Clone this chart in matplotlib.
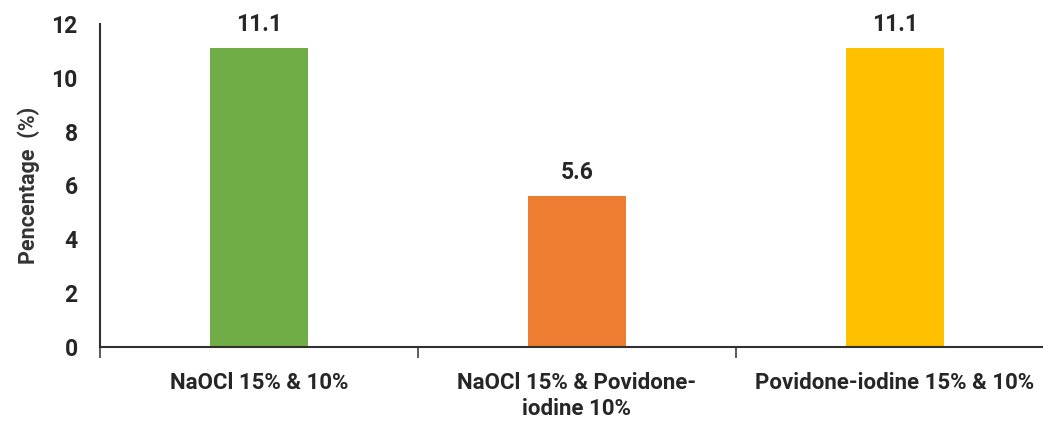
import numpy as np
import matplotlib.pyplot as plt

categories = ['NaOCl 15% & 10%', 'NaOCl 15% & Povidone-\niodine 10%', 'Povidone-iodine 15% & 10%']
values = [11.1, 5.6, 11.1]
value_labels = ['11.1', '5.6', '11.1']
colors = ['#70AD47', '#ED7D31', '#FFC000']

plt.rcParams['font.family'] = ['Roboto', 'DejaVu Sans']

fig = plt.figure(figsize=(10.43, 4.28), dpi=100)
ax = fig.add_axes([100/1043, 81/428, 954/1043, 323/428])

x = np.arange(len(categories))
ax.bar(x, values, width=0.31, color=colors)
for xi, v, lab in zip(x, values, value_labels):
    ax.annotate(lab, (xi, v), xytext=(0, 9), textcoords='offset points',
                ha='center', va='bottom', fontsize=16.5, fontweight='bold', color='#262626')

ax.set_xlim(-0.5, 2.5)
ax.set_ylim(0, 12)
ax.set_yticks(range(0, 13, 2))
ax.tick_params(axis='y', length=0, pad=16, labelsize=16.5, labelcolor='#262626')
for t in ax.get_yticklabels():
    t.set_fontweight('bold')

# boundary ticks (major), labels on minor ticks at centres
ax.set_xticks([-0.5, 0.5, 1.5, 2.5])
ax.set_xticklabels([])
ax.set_xticks(x, minor=True)
ax.set_xticklabels(categories, minor=True, fontsize=16, fontweight='bold', color='#262626',
                   linespacing=1.25)
ax.tick_params(axis='x', which='major', length=8, width=1.2, color='#404040')
ax.tick_params(axis='x', which='minor', length=0, pad=18)

ax.set_ylabel('Pencentage  (%)', fontsize=15.5, fontweight='bold', color='#333333', labelpad=8)

for s in ['top', 'right']:
    ax.spines[s].set_visible(False)
for s in ['left', 'bottom']:
    ax.spines[s].set_linewidth(1.5)
    ax.spines[s].set_color('#303030')

fig.savefig('out.png', dpi=100)
